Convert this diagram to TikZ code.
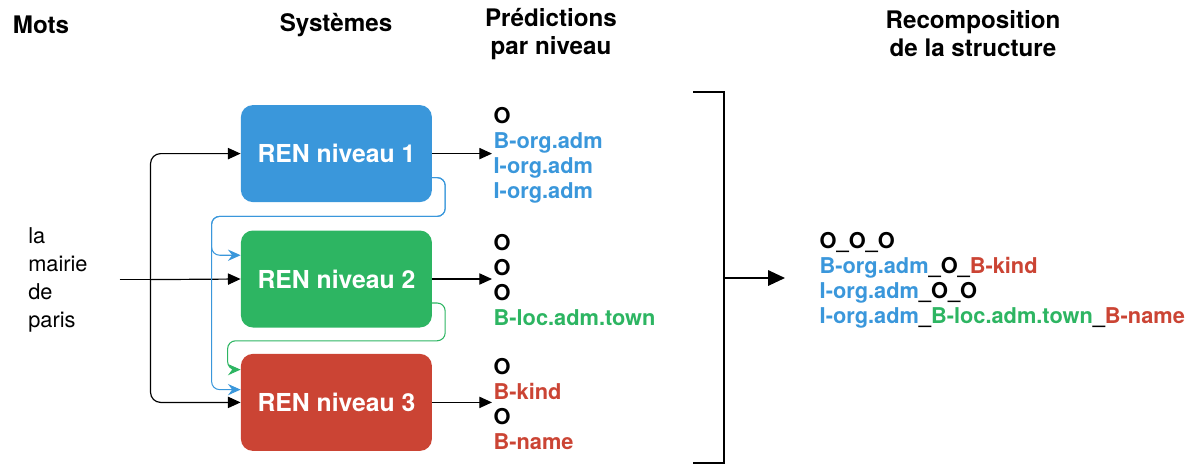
\documentclass[tikz,border=0pt]{standalone}
\usepackage{fontspec}
\setmainfont{TeX Gyre Heros}
\usetikzlibrary{positioning,arrows.meta,calc}
\definecolor{renblue}{HTML}{3A97DB}
\definecolor{rengreen}{HTML}{2DB562}
\definecolor{renred}{HTML}{CB4434}
\newcommand{\Bl}[1]{\textcolor{renblue}{#1}}
\newcommand{\Gr}[1]{\textcolor{rengreen}{#1}}
\newcommand{\Rd}[1]{\textcolor{renred}{#1}}

\begin{document}
\begin{tikzpicture}[
  ren/.style={rounded corners=0.3cm,minimum width=4.775cm,minimum height=2.425cm,
    text=white,font=\fontsize{17.6}{20}\selectfont\bfseries},
  head/.style={align=center,font=\fontsize{17.2}{19.9}\selectfont\bfseries},
  pred/.style={anchor=west,align=left,inner sep=1pt,font=\fontsize{15.5}{17.8}\selectfont\bfseries},
  arr/.style={-{Triangle[length=9pt,width=8pt]},line width=0.85pt},
  fb/.style={-{Stealth[length=9pt,width=8pt,inset=3pt]},line width=0.75pt,rounded corners=0.2cm}
]
\useasboundingbox (0,0) rectangle (29.9,-11.6);
% Column titles
\node[head] (tmots) at (1.025,-0.625) {Mots};
\node[head] (tsys) at (8.4,-0.625) {Systèmes};
\node[head] (tpred) at (13.775,-0.85) {Prédictions\\par niveau};
\node[head] (trec) at (24.325,-0.85) {Recomposition\\de la structure};

% Input words
\node[anchor=west,align=left,inner sep=0pt,text width=2.275cm,
  font=\fontsize{15.5}{19.9}\selectfont] (phrase) at (0.7,-6.99) {la\\mairie\\de\\paris};

% Systems
\node[ren,fill=renblue] (b1) at (8.41,-3.84) {REN niveau 1};
\node[ren,fill=rengreen] (b2) at (8.41,-6.975) {REN niveau 2};
\node[ren,fill=renred] (b3) at (8.41,-10.06) {REN niveau 3};

% Inputs
\draw[line width=0.85pt] (phrase.east) -- ++(0.775,0) coordinate (fork);
\draw[arr] (fork) -- (b2.west);
\draw[arr,rounded corners=0.25cm] (fork) |- (b1.west);
\draw[arr,rounded corners=0.25cm] (fork) |- (b3.west);

% Feedback between levels
\draw[fb,renblue] ($(b1.east)+(0,-0.6)$) -| ($(b1.south east)+(0.325,-0.35)$)
  -| ($(b2.north west)+(-0.725,-0.625)$) -- ($(b2.north west)+(0,-0.625)$);
\draw[fb,renblue] ($(b1.east)+(0,-0.6)$) -| ($(b1.south east)+(0.325,-0.35)$)
  -| ($(b3.north west)+(-0.725,-0.9)$) -- ($(b3.north west)+(0,-0.9)$);
\draw[fb,rengreen] ($(b2.east)+(0,-0.6)$) -| ($(b2.south east)+(0.325,-0.325)$)
  -| ($(b3.north west)+(-0.325,-0.4)$) -- ($(b3.north west)+(0,-0.4)$);

% Predictions per level
\node[pred] (p1) at (12.3,-3.89) {O\\\Bl{B-org.adm}\\\Bl{I-org.adm}\\\Bl{I-org.adm}};
\node[pred] (p2) at (12.3,-7.0) {O\\O\\O\\\Gr{B-loc.adm.town}};
\node[pred] (p3) at (12.3,-10.11) {O\\\Rd{B-kind}\\O\\\Rd{B-name}};
\draw[arr] (b1.east) -- (b1.east -| p1.west);
\draw[arr] (b2.east) -- (b2.east -| p2.west);
\draw[arr] (b3.east) -- (b3.east -| p3.west);

% Bracket and recomposition
\draw[line width=2pt] (17.325,-2.3) -| (18.1,-11.575) -- (17.325,-11.575);
\coordinate (brace) at (18.1,-6.95);
\coordinate (recomp) at (19.625,-6.95);
\draw[line width=1pt,-{Triangle[length=12pt,width=11pt]}] (brace) -- (recomp);
\node[pred] (r) at (20.45,-7.0) {O\_O\_O\\
  \Bl{B-org.adm}\_O\_\Rd{B-kind}\\
  \Bl{I-org.adm}\_O\_O\\
  \Bl{I-org.adm}\_\Gr{B-loc.adm.town}\_\Rd{B-name}};
\end{tikzpicture}
\end{document}
